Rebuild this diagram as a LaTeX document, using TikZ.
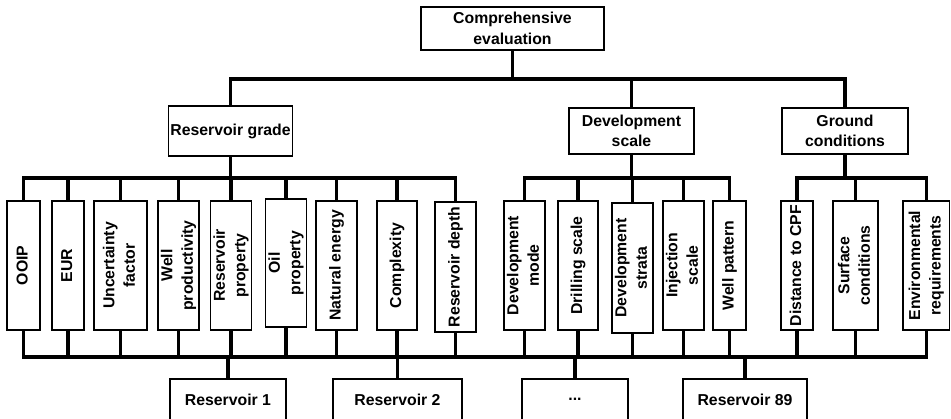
\documentclass[tikz,border=0pt]{standalone}
\usepackage{fontspec}
\setmainfont{Liberation Sans}
\begin{document}
\begin{tikzpicture}[x=1pt,y=-1pt,
  box/.style={draw,line width=1.1pt,inner sep=0pt,align=center,
    font=\fontsize{15.8}{20.5}\selectfont\bfseries},
  conn/.style={line width=3.4pt}]
\useasboundingbox (0,0) rectangle (951,418);
% top levels
\node[box,minimum width=183pt,minimum height=43pt] (top) at (512.5,28.5) {Comprehensive\\evaluation};
\node[box,minimum width=124pt,minimum height=50pt] (rg) at (230.5,131) {Reservoir grade};
\node[box,minimum width=125pt,minimum height=46pt] (ds) at (631.5,131) {Development\\scale};
\node[box,minimum width=126pt,minimum height=46pt] (gc) at (845,131) {Ground\\conditions};
% indicators
\newcommand{\vt}[1]{\rotatebox{90}{\begin{tabular}{@{}c@{}}#1\end{tabular}}}
\tikzset{ind/.style={box,minimum height=129pt}}
\node[ind,minimum width=33pt] (c1) at (23.5,265.5) {\vt{OOIP}};
\node[ind,minimum width=32pt] (c2) at (68,265.5) {\vt{EUR}};
\node[ind,minimum width=53pt] (c3) at (120.5,265.5) {\vt{Uncertainty\\factor}};
\node[ind,minimum width=39pt] (c4) at (178.5,265.5) {\vt{Well\\productivity}};
\node[ind,minimum width=40pt] (c5) at (231,265.5) {\vt{Reservoir\\property}};
\node[ind,minimum width=40pt,minimum height=128pt] (c6) at (286,263) {\vt{Oil\\property}};
\node[ind,minimum width=41pt] (c7) at (336.5,265.5) {\vt{Natural energy}};
\node[ind,minimum width=40pt] (c8) at (397,265.5) {\vt{Complexity}};
\node[ind,minimum width=41pt,minimum height=130pt] (c9) at (455.5,267) {\vt{Reservoir depth}};
\node[ind,minimum width=39pt] (c10) at (524.5,265.5) {\vt{Development\\mode}};
\node[ind,minimum width=40pt] (c11) at (578,265.5) {\vt{Drilling scale}};
\node[ind,minimum width=39pt,minimum height=130pt] (c12) at (632.5,268) {\vt{Development\\strata}};
\node[ind,minimum width=39pt] (c13) at (683.5,265.5) {\vt{Injection\\scale}};
\node[ind,minimum width=33pt] (c14) at (729.5,265.5) {\vt{Well pattern}};
\node[ind,minimum width=32pt] (c15) at (797,265.5) {\vt{Distance to CPF}};
\node[ind,minimum width=45pt] (c16) at (855.5,265.5) {\vt{Surface\\conditions}};
\node[ind,minimum width=46.5pt] (c17) at (926.25,265.5) {\vt{Environmental\\requirements}};
% reservoirs
\tikzset{res/.style={box,minimum height=41pt}}
\node[res,minimum width=116pt] (r1) at (228,399.5) {Reservoir 1};
\node[res,minimum width=129pt] (r2) at (397.5,399.5) {Reservoir 2};
\node[res,minimum width=106pt] (r3) at (575,399.5) {...};
\node[res,minimum width=124pt] (r4) at (745,399.5) {Reservoir 89};
% bar levels
\coordinate (tb) at (0,79);
\coordinate (ub) at (0,178);
\coordinate (lb) at (0,357);
% connectors
\draw[conn] (top.south) -- (top.south |- tb);
\draw[conn] (rg.north) -- (rg.north |- tb) -- (gc.north |- tb) -- (gc.north);
\draw[conn] (ds.north) -- (ds.north |- tb);
\draw[conn] (c1.north) -- (c1.north |- ub) -- (c9.north |- ub) -- (c9.north);
\draw[conn] (c10.north) -- (c10.north |- ub) -- (c14.north |- ub) -- (c14.north);
\draw[conn] (c15.north) -- (c15.north |- ub) -- (c17.north |- ub) -- (c17.north);
\draw[conn] (rg.south) -- (rg.south |- ub);
\draw[conn] (ds.south) -- (ds.south |- ub);
\draw[conn] (gc.south) -- (gc.south |- ub);
\foreach \i in {2,...,8,11,12,13,16}
  \draw[conn] (c\i.north) -- (c\i.north |- ub);
\draw[conn] (c1.south) -- (c1.south |- lb) -- (c17.south |- lb) -- (c17.south);
\foreach \i in {2,...,16}
  \draw[conn] (c\i.south) -- (c\i.south |- lb);
\foreach \i in {1,...,4}
  \draw[conn] (r\i.north) -- (r\i.north |- lb);
\end{tikzpicture}
\end{document}
